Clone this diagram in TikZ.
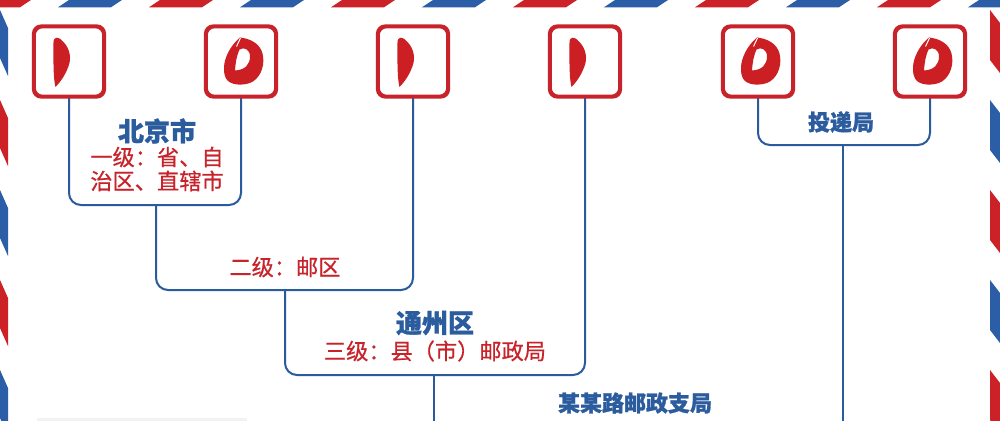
\documentclass[tikz,border=0pt]{standalone}
\usepackage{fontspec}
\newfontfamily\cjk{Noto Sans CJK SC}
\newfontfamily\cjkm{Noto Sans CJK SC}[FakeBold=0.6]
\newfontfamily\cjkb{Noto Sans CJK SC}[FakeBold=1.2]
\usetikzlibrary{backgrounds}
\definecolor{sred}{HTML}{CC2127}
\definecolor{sblue}{HTML}{2C5EA8}
\definecolor{bred}{HTML}{C8232A}
\definecolor{dred}{HTML}{CC1F24}
\definecolor{lblue}{HTML}{2A5B9C}
\definecolor{tblue}{HTML}{2B5C9E}
\definecolor{tred}{HTML}{C8232A}
\begin{document}
\begin{tikzpicture}[x=1pt,y=-1pt,
  digitbox/.style={draw=bred, line width=2.6pt, rounded corners=8pt, minimum size=69pt, inner sep=0pt, fill=white},
  conn/.style={draw=lblue, line width=2pt, rounded corners=12pt},
  ttl/.style={text=tblue, font=\cjkb\bfseries\fontsize{26}{28}\selectfont, inner sep=0pt},
  ttls/.style={text=tblue, font=\cjkb\bfseries\fontsize{22}{26}\selectfont, inner sep=0pt},
  sub/.style={text=tred, font=\cjkm\fontsize{22.2}{24}\selectfont, inner sep=0pt, align=center},
  digitone/.pic={\fill[dred] (-15.5,-19) .. controls (-15.5,-25.5) and (-10,-25) .. (-6,-20) .. controls (1,-13) and (3,-3) .. (-1,6) .. controls (-4,14) and (-9,21) .. (-13.5,25.5) .. controls (-15.5,19) and (-15.8,0) .. cycle;},
  digitzero/.pic={\fill[dred, even odd rule] (-1,-24) .. controls (9,-23) and (19,-18) .. (21.5,-8) .. controls (24,2) and (21,14) .. (12,20) .. controls (5,24) and (-7,24.5) .. (-13,19.5) .. controls (-18,15) and (-18,4) .. (-15,-4) .. controls (-12,-12) and (-7,-19) .. cycle
     (-6,9) .. controls (-5.5,1) and (-4,-7) .. (-1.5,-12) .. controls (3,-15) and (9,-12) .. (9,-5) .. controls (9,3) and (4,8.5) .. cycle;
     \draw[white, line width=1pt] (-0.5,-23.5) -- (-4.5,-15);}
]
\useasboundingbox (0,0) rectangle (1000,420);
\begin{scope}[on background layer]
\fill[white] (0,0) rectangle (1000,420);
\end{scope}
\clip (0,0) rectangle (1000,420);
% airmail border
\foreach \x/\c in {-33/sred,58/sblue,149/sred,240/sblue,331/sred,422/sblue,513/sred,604/sblue,695/sred,786/sblue,877/sred,968/sblue}
  \fill[\c] (\x,7.3) -- (\x+53,7.3) -- (\x+64,0) -- (\x+11,0) -- cycle;
\foreach \y/\c in {10/sblue,100/sred,190/sblue,280/sred,370/sblue}
  \fill[\c] (0,\y) -- (8,\y+18) -- (8,\y+66) -- (0,\y+48) -- cycle;
\foreach \y/\c in {10/sred,100/sblue,190/sred,280/sblue,370/sred}
  \fill[\c] (990,\y) -- (1000,\y+13) -- (1000,\y+63) -- (990,\y+50) -- cycle;
\fill[gray!10] (37,417.5) rectangle (247,421);

% junctions
\coordinate (u1) at (156,205);
\coordinate (u2) at (285,290);
\coordinate (u3) at (434,375);
\coordinate (u4) at (843,145);
\coordinate (e1) at (434,424);
\coordinate (e2) at (843,424);

% digit boxes
\node[digitbox] (b1) at (69,61.5) {};
\node[digitbox] (b2) at (241,61.5) {};
\node[digitbox] (b3) at (413,61.5) {};
\node[digitbox] (b4) at (585,61.5) {};
\node[digitbox] (b5) at (758,61.5) {};
\node[digitbox] (b6) at (930,61.5) {};

\draw[conn] (b1.south) |- (u1) -| (b2.south);
\draw[conn] (u1) |- (u2) -| (b3.south);
\draw[conn] (u2) |- (u3) -| (b4.south);
\draw[conn] (u3) -- (e1);
\draw[conn] (b5.south) |- (u4) -| (b6.south);
\draw[conn] (u4) -- (e2);

% redraw box borders over connector ends
\foreach \b in {b1,b2,b3,b4,b5,b6}
  \draw[bred, line width=2.6pt, rounded corners=8pt] (\b.north west) rectangle (\b.south east);

\pic at (b1.center) {digitone};
\pic at (b2.center) {digitzero};
\pic at (b3.center) {digitone};
\pic at (b4.center) {digitone};
\pic at (b5.center) {digitzero};
\pic at (b6.center) {digitzero};

% labels
\node[ttl] (t1) at (157,131) {北京市};
\node[sub] (s1) at (157,169) {一级：省、自\\治区、直辖市};
\node[sub] (s2) at (285,267) {二级：邮区};
\node[ttl] (t3) at (435,323) {通州区};
\node[sub] (s3) at (435,351) {三级：县（市）邮政局};
\node[ttls] (t4) at (635,403) {某某路邮政支局};
\node[ttls] (t5) at (841,122) {投递局};
\end{tikzpicture}
\end{document}
